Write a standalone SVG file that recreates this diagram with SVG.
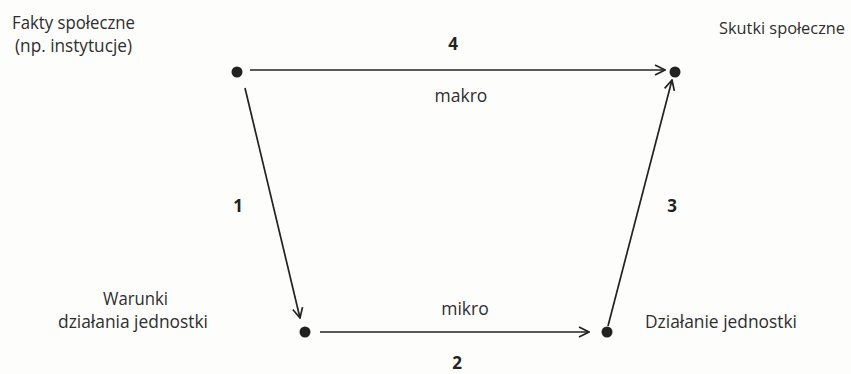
<svg xmlns="http://www.w3.org/2000/svg" width="851" height="374" viewBox="0 0 851 374">
<style>
.lbl{font-family:"Open Sans","Liberation Sans",sans-serif;font-size:17.5px;fill:#2e2e2e}
.num{font-family:"Open Sans","Liberation Sans",sans-serif;font-size:17px;font-weight:bold;fill:#222}
.edge{stroke:#222;stroke-width:1.7;fill:none}
.dot{fill:#222}
</style>
<defs>
<marker id="arr" viewBox="0 0 12 12" refX="11" refY="6" markerWidth="12" markerHeight="12" markerUnits="userSpaceOnUse" orient="auto">
<path d="M1,1 L11,6 L1,11" fill="none" stroke="#222" stroke-width="1.7"/>
</marker>
</defs>
<rect width="851" height="374" fill="#fdfdfc"/>
<g id="connectors">
<line class="edge" x1="250" y1="70" x2="665" y2="70" marker-end="url(#arr)"/>
<line class="edge" x1="245" y1="88" x2="300" y2="318" marker-end="url(#arr)"/>
<line class="edge" x1="320" y1="332" x2="589" y2="332" marker-end="url(#arr)"/>
<line class="edge" x1="608" y1="326" x2="672" y2="80" marker-end="url(#arr)"/>
<text class="num" x="453" y="50" text-anchor="middle">4</text>
<text class="lbl" x="461" y="102" text-anchor="middle">makro</text>
<text class="num" x="238" y="212" text-anchor="middle">1</text>
<text class="num" x="672" y="212" text-anchor="middle">3</text>
<text class="lbl" x="465" y="315" text-anchor="middle">mikro</text>
<text class="num" x="457" y="369" text-anchor="middle">2</text>
</g>
<g id="fakty">
<circle class="dot" cx="237" cy="72" r="5.5"/>
<text class="lbl" x="12" y="29" textLength="123" lengthAdjust="spacingAndGlyphs">Fakty społeczne</text>
<text class="lbl" x="15" y="52" textLength="117" lengthAdjust="spacingAndGlyphs">(np. instytucje)</text>
</g>
<g id="skutki">
<circle class="dot" cx="675" cy="72" r="5.5"/>
<text class="lbl" x="719" y="34" style="font-size:16px" textLength="126" lengthAdjust="spacingAndGlyphs">Skutki społeczne</text>
</g>
<g id="warunki">
<circle class="dot" cx="305" cy="332" r="5.5"/>
<text class="lbl" x="103" y="305" textLength="65" lengthAdjust="spacingAndGlyphs">Warunki</text>
<text class="lbl" x="58" y="328" textLength="150" lengthAdjust="spacingAndGlyphs">działania jednostki</text>
</g>
<g id="dzialanie">
<circle class="dot" cx="607" cy="332" r="5.5"/>
<text class="lbl" x="645" y="328" textLength="152" lengthAdjust="spacingAndGlyphs">Działanie jednostki</text>
</g>
</svg>
